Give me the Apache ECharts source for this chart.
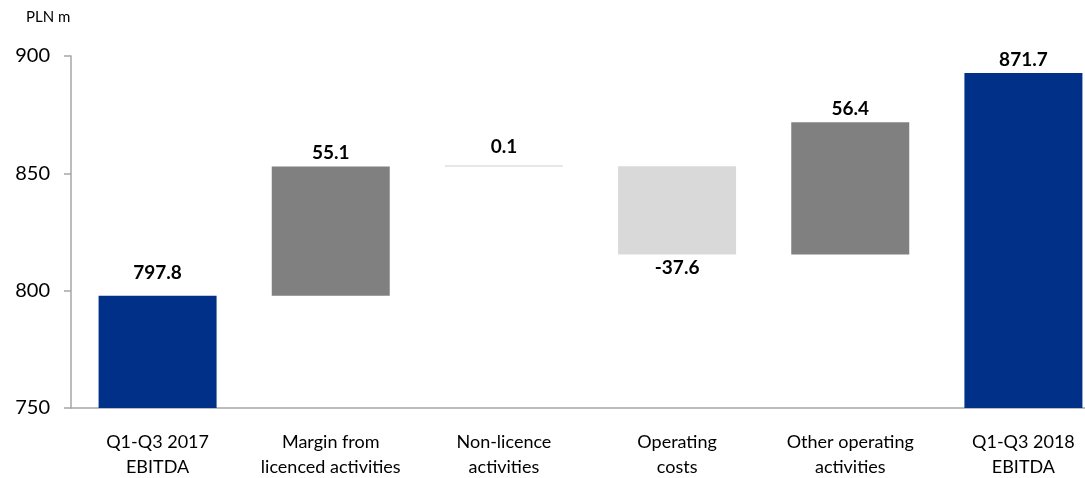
<!DOCTYPE html>
<html>
<head>
<meta charset="utf-8">
<script src="https://cdn.jsdelivr.net/npm/echarts@6/dist/echarts.min.js"></script>
<style>
  html, body { margin: 0; padding: 0; background: #fff; }
  #chart { width: 1085px; height: 478px; }
</style>
</head>
<body>
<div id="chart"></div>
<script>
// categories on the x axis
var categories = [
  "Q1-Q3 2017\nEBITDA",
  "Margin from\nlicenced activities",
  "Non-licence\nactivities",
  "Operating\ncosts",
  "Other operating\nactivities",
  "Q1-Q3 2018\nEBITDA"
];
// opening total and the changes between
var startValue = 797.8;
var deltas = [55.1, 0.1, -37.6, 56.4];
// closing bar, as drawn in the picture, and its printed label
var endBarTop = 892.8;
var endLabel = "871.7";
// y axis ticks
var yMin = 750, yMax = 900, yStep = 50;

var blue = "#003087", dark = "#808080", light = "#d9d9d9";

// build the waterfall: invisible base + visible part
var base = [0], visible = [startValue], labels = [startValue.toFixed(1)];
var running = startValue;
deltas.forEach(function (d) {
  var next = running + d;
  base.push(Math.min(running, next));
  visible.push(Math.abs(d));
  labels.push(d.toFixed(1));
  running = next;
});
base.push(0);
visible.push(endBarTop);
labels.push(endLabel);

var visibleData = visible.map(function (v, i) {
  var color = blue;
  if (i > 0 && i < visible.length - 1) {
    color = deltas[i - 1] < 0 ? light : dark;
  }
  var item = {
    value: v,
    itemStyle: { color: color },
    label: { formatter: labels[i] }
  };
  if (i > 0 && i < visible.length - 1 && deltas[i - 1] < 0) {
    item.label.position = "bottom";
  }
  if (Math.abs(v) < 1) {
    // tiny change: show as a thin line
    item.itemStyle = { color: "#d0d0d0" };
    item.label.distance = 9;
  }
  if (i === 0) item.label.distance = 13;
  return item;
});

var chart = echarts.init(document.getElementById("chart"));
chart.setOption({
  animation: false,
  textStyle: { fontFamily: "Lato" },
  grid: { left: 71, right: -25, top: 56, bottom: 70, outerBoundsMode: "none", containLabel: false },
  graphic: [{
    type: "text", left: 26, top: 10,
    style: { text: "PLN m", fontSize: 15, fontFamily: "Lato", fill: "#000" }
  }],
  xAxis: {
    type: "category",
    data: categories,
    axisLine: { lineStyle: { color: "#a6a6a6", width: 1.5 } },
    axisTick: { length: 7, lineStyle: { color: "#a6a6a6", width: 1.5 } },
    axisLabel: { color: "#000", fontSize: 18, lineHeight: 25, margin: 22, interval: 0 }
  },
  yAxis: {
    type: "value",
    min: yMin, max: yMax, interval: yStep,
    splitLine: { show: false },
    axisLine: { show: true, lineStyle: { color: "#a6a6a6", width: 1.5 } },
    axisTick: { show: true, length: 7, lineStyle: { color: "#a6a6a6", width: 1.5 } },
    axisLabel: { color: "#000", fontSize: 20, margin: 21 }
  },
  series: [
    {
      type: "bar", stack: "w", barWidth: 118,
      itemStyle: { color: "transparent" },
      data: base, silent: true
    },
    {
      type: "bar", stack: "w", barWidth: 118,
      barMinHeight: 1,
      label: {
        show: true, position: "top", distance: 4,
        color: "#000", fontSize: 19, fontWeight: "bold"
      },
      data: visibleData
    }
  ]
});
</script>
</body>
</html>
